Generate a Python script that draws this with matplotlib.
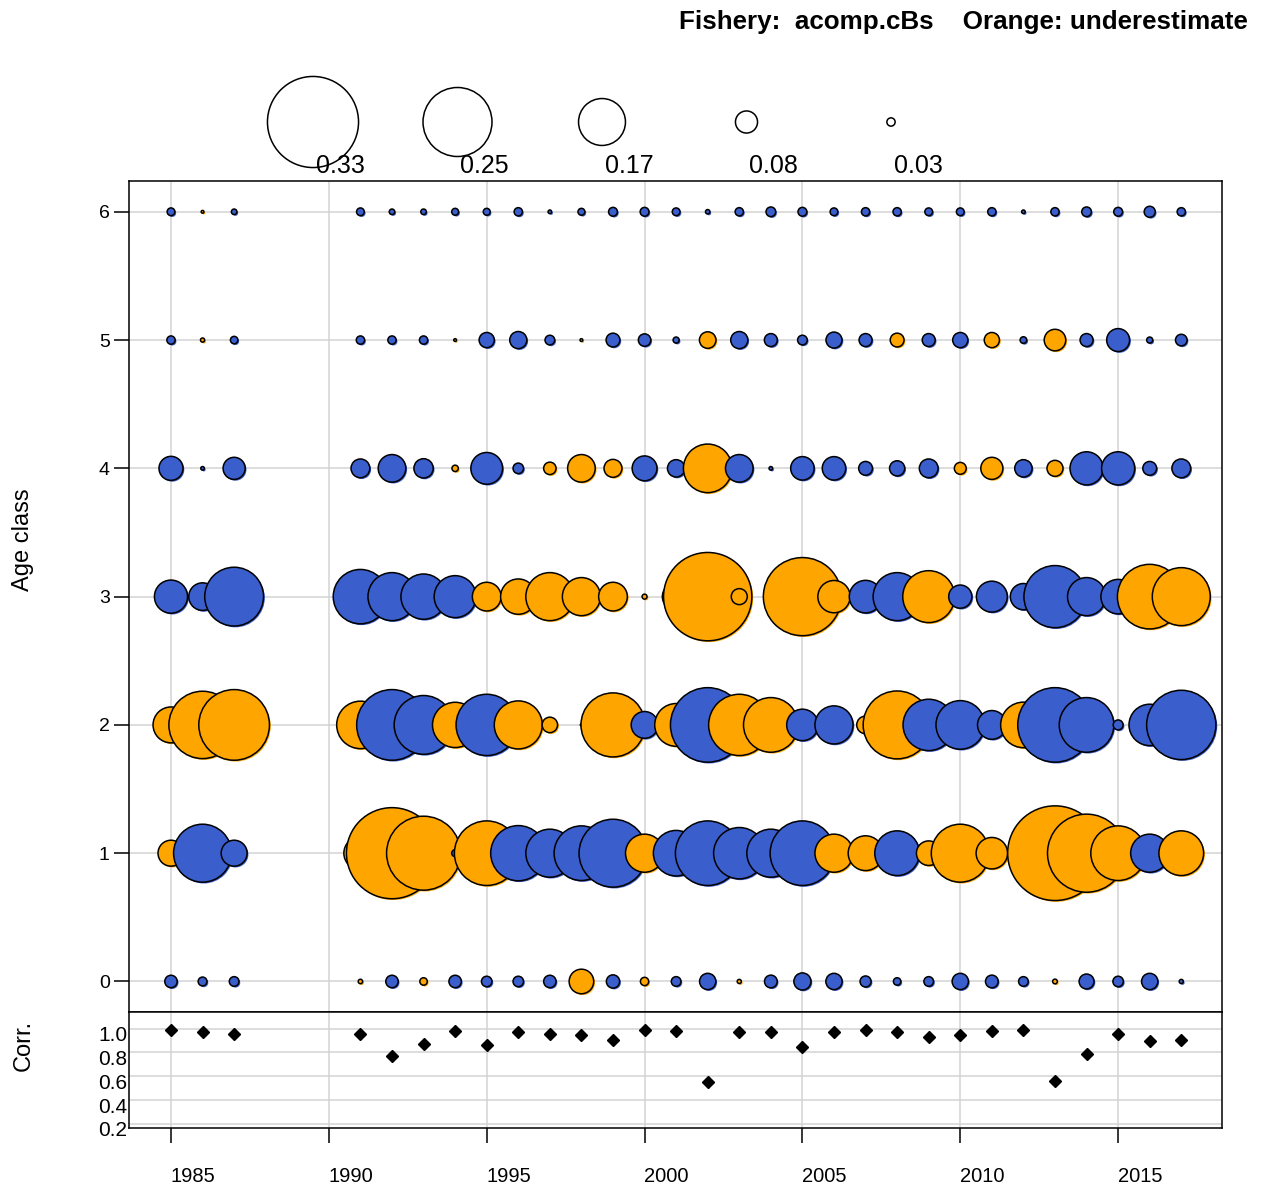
import matplotlib
matplotlib.use("Agg")
import matplotlib.pyplot as plt
from matplotlib.transforms import ScaledTranslation

plt.rcParams['font.family'] = ['Liberation Sans', 'DejaVu Sans']

# ---- data ----
years = [1985, 1986, 1987] + list(range(1991, 2018))
ages = [0, 1, 2, 3, 4, 5, 6]

# signed residuals per age class, in year order: >0 orange (underestimate), <0 blue
resid_age0 = [-0.045, -0.032, -0.035, 0.016, -0.045, 0.027, -0.045, -0.038, -0.038, -0.045,
              0.089, -0.048, 0.030, -0.035, -0.059, 0.015, -0.046, -0.062, -0.059, -0.040,
              -0.027, -0.035, -0.059, -0.046, -0.035, 0.017, -0.054, -0.038, -0.059, -0.015]
resid_age1 = [0.094, -0.210, -0.094, 0.120, 0.330, 0.268, -0.025, 0.234, -0.200, -0.174,
              -0.198, -0.246, 0.138, -0.165, -0.234, -0.186, -0.174, -0.234, 0.138, 0.126,
              -0.162, 0.089, 0.210, 0.114, -0.030, 0.343, 0.283, 0.198, -0.138, 0.162]
resid_age2 = [0.130, 0.244, 0.256, 0.172, -0.256, -0.213, 0.164, -0.222, 0.174, 0.056,
              -0.008, 0.232, -0.097, 0.155, -0.270, 0.222, 0.198, -0.114, -0.138, 0.064,
              0.246, -0.186, -0.176, -0.104, 0.165, -0.270, -0.198, -0.036, -0.150, -0.251]
resid_age3 = [-0.120, -0.100, -0.213, -0.197, -0.174, -0.164, -0.152, 0.104, 0.128, 0.174,
              0.138, 0.104, 0.018, 0.100, 0.320, 0.058, -0.030, 0.283, 0.117, -0.118,
              -0.174, 0.188, -0.084, -0.112, -0.095, -0.225, -0.138, -0.125, 0.234, 0.210]
resid_age4 = [-0.087, -0.013, -0.080, -0.068, -0.100, -0.070, 0.023, -0.115, -0.038, 0.045,
              0.100, 0.065, -0.090, -0.063, 0.176, -0.100, -0.013, -0.085, -0.085, -0.050,
              -0.055, -0.068, 0.043, 0.080, -0.063, 0.058, -0.120, -0.120, -0.050, -0.068]
resid_age5 = [-0.030, 0.015, -0.027, -0.030, -0.030, -0.030, 0.010, -0.055, -0.062, -0.035,
              0.010, -0.050, -0.045, -0.022, 0.060, -0.062, -0.047, -0.035, -0.058, -0.047,
              0.050, -0.047, -0.055, 0.055, -0.024, 0.078, -0.047, -0.083, -0.022, -0.042]
resid_age6 = [-0.028, 0.010, -0.020, -0.028, -0.020, -0.020, -0.025, -0.025, -0.030, -0.013,
              -0.025, -0.032, -0.032, -0.028, -0.016, -0.030, -0.035, -0.032, -0.028, -0.030,
              -0.030, -0.028, -0.028, -0.030, -0.013, -0.030, -0.035, -0.032, -0.040, -0.030]
resid = [resid_age0, resid_age1, resid_age2, resid_age3, resid_age4, resid_age5, resid_age6]

corr = [0.989, 0.969, 0.958, 0.955, 0.771, 0.870, 0.983, 0.859, 0.972, 0.958,
        0.946, 0.904, 0.986, 0.980, 0.550, 0.972, 0.975, 0.847, 0.975, 0.986,
        0.972, 0.932, 0.946, 0.980, 0.992, 0.560, 0.790, 0.952, 0.898, 0.907]

legend_vals = [0.33, 0.25, 0.17, 0.08, 0.03]
year_ticks = [1985, 1990, 1995, 2000, 2005, 2010, 2015]
corr_ticks = [0.2, 0.4, 0.6, 0.8, 1.0]

ORANGE = '#FFA500'
BLUE = '#3A5FCD'
GRID = '#d3d3d3'

W, H, DPI = 1262, 1189, 100
PX_PER_UNIT = 138  # bubble radius in pixels per unit of residual


def msize(v):
    """scatter size (pt^2) for a residual of magnitude v"""
    d = 2 * PX_PER_UNIT * abs(v) * 72 / DPI
    return d * d


fig = plt.figure(figsize=(W / DPI, H / DPI), dpi=DPI)
ax = fig.add_axes([129 / W, 1 - 1012 / H, 1093 / W, 831 / H])
axc = fig.add_axes([129 / W, 1 - 1128 / H, 1093 / W, 116 / H], sharex=ax)

# bubbles
xs, ys, ss, cs = [], [], [], []
for age, row in zip(ages, resid):
    for yr, v in zip(years, row):
        xs.append(yr)
        ys.append(age)
        ss.append(msize(v))
        cs.append(ORANGE if v > 0 else BLUE)

shadow = ax.transData + ScaledTranslation(1.3 / DPI, -1.3 / DPI, fig.dpi_scale_trans)
ax.scatter(xs, ys, s=ss, c=cs, linewidths=0, transform=shadow, zorder=2)
ax.scatter(xs, ys, s=ss, c=cs, edgecolors='black', linewidths=1.1, zorder=3)

ax.set_xlim(1983.67, 2018.29)
ax.set_ylim(-0.238, 6.24)
ax.set_xticks(year_ticks)
ax.set_yticks(ages)
ax.grid(True, color=GRID, lw=1.1)
ax.set_axisbelow(True)
ax.tick_params(axis='x', length=0, labelbottom=False)
ax.tick_params(axis='y', length=10.8, width=1.1, pad=3, labelsize=14)
for sp in ax.spines.values():
    sp.set_linewidth(1.1)

# correlation panel
axc.plot(years, corr, 'D', color='black', ms=6, zorder=3)
axc.set_ylim(0.166, 1.14)
axc.set_yticks(corr_ticks)
axc.set_yticklabels(['%.1f' % t for t in corr_ticks])
axc.grid(True, color=GRID, lw=1.1)
axc.set_axisbelow(True)
axc.tick_params(axis='y', length=0, pad=1, labelsize=15)
axc.tick_params(axis='x', length=10.8, width=1.1, pad=17, labelsize=14.5)
for sp in axc.spines.values():
    sp.set_linewidth(1.1)
for lbl in axc.get_xticklabels():
    lbl.set_transform(lbl.get_transform() + ScaledTranslation(22 / DPI, 0, fig.dpi_scale_trans))
for lbl in axc.get_yticklabels():
    lbl.set_transform(lbl.get_transform() + ScaledTranslation(0, -5 / DPI, fig.dpi_scale_trans))

# bubble size legend (pixel layout overlay)
lg = fig.add_axes([0, 0, 1, 1])
lg.set_xlim(0, W)
lg.set_ylim(H, 0)
lg.axis('off')
lx = [313 + 144.5 * i for i in range(len(legend_vals))]
lg.scatter(lx, [122] * len(lx), s=[msize(v) for v in legend_vals],
           facecolors='none', edgecolors='black', linewidths=1.1)
for x, v in zip(lx, legend_vals):
    lg.text(x + 27, 166, '%.2f' % v, ha='center', va='center', fontsize=18)

fig.text(1248 / W, 1 - 22 / H, 'Fishery:  acomp.cBs    Orange: underestimate',
         ha='right', va='center', fontsize=18.7, fontweight='bold')
fig.text(23 / W, 1 - 540 / H, 'Age class', rotation=90, ha='center', va='center', fontsize=17)
fig.text(24 / W, 1 - 1045 / H, 'Corr.', rotation=90, ha='center', va='center', fontsize=17)

fig.savefig('out.png', dpi=DPI)
